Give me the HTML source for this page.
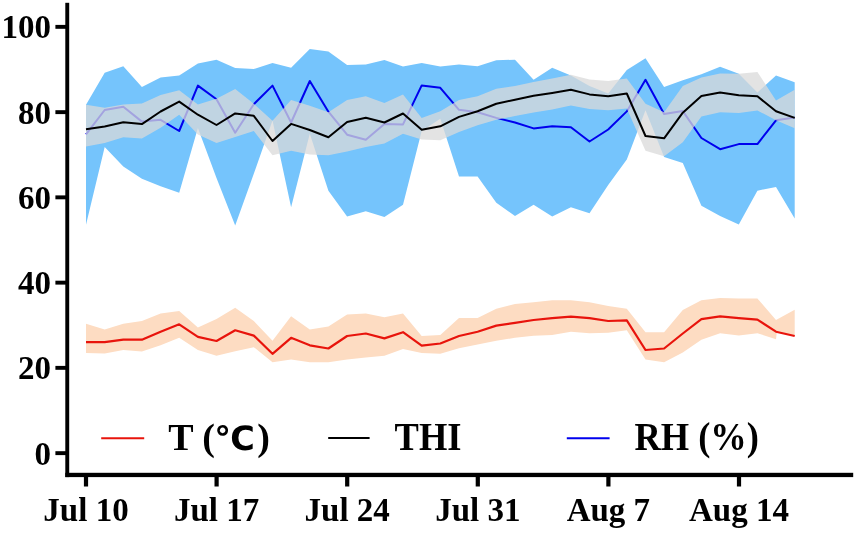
<!DOCTYPE html>
<html lang="en"><head><meta charset="utf-8"><title>T, THI and RH chart</title>
<style>html,body{margin:0;padding:0;background:#fff}svg{display:block}</style></head>
<body>
<svg width="856" height="533" viewBox="0 0 856 533">
<rect width="856" height="533" fill="#fff"/>
<polygon points="86.0,104.7 104.7,72.8 123.3,66.3 141.9,86.9 160.6,77.5 179.2,75.6 197.9,63.5 216.5,59.7 235.2,68.1 253.8,69.1 272.5,62.9 291.1,67.8 309.8,49.0 328.4,51.6 347.1,65.0 365.8,64.4 384.4,60.0 403.0,66.6 421.7,62.9 440.3,66.6 459.0,64.4 477.6,66.3 496.3,60.3 515.0,59.7 533.6,79.8 552.2,67.8 570.9,75.6 589.5,86.0 608.2,93.5 626.8,70.0 645.5,58.2 664.1,86.9 682.8,80.3 701.4,74.3 720.1,66.8 738.8,73.8 757.4,92.5 776.0,75.6 794.7,82.2 794.7,218.4 776.0,186.9 757.4,190.7 738.8,224.4 720.1,216.0 701.4,205.7 682.8,162.9 664.1,156.9 645.5,110.3 626.8,159.5 608.2,185.0 589.5,213.2 570.9,207.2 552.2,216.5 533.6,204.7 515.0,216.0 496.3,202.8 477.6,176.6 459.0,176.6 440.3,118.8 421.7,131.0 403.0,204.7 384.4,217.1 365.8,211.3 347.1,216.5 328.4,190.7 309.8,133.8 291.1,207.2 272.5,120.6 253.8,173.8 235.2,225.5 216.5,178.0 197.9,128.0 179.2,192.8 160.6,186.3 141.9,178.8 123.3,166.6 104.7,146.9 86.0,224.7" fill="#75c4fc"/>
<polyline points="86.0,134.4 104.7,110.0 123.3,106.8 141.9,121.6 160.6,119.8 179.2,131.0 197.9,85.6 216.5,99.3 235.2,132.7 253.8,104.2 272.5,85.6 291.1,122.5 309.8,81.0 328.4,111.7 347.1,134.7 365.8,139.8 384.4,123.9 403.0,124.4 421.7,85.4 440.3,87.8 459.0,109.8 477.6,112.2 496.3,117.9 515.0,122.5 533.6,128.4 552.2,126.3 570.9,127.2 589.5,141.5 608.2,129.5 626.8,111.4 645.5,79.8 664.1,114.1 682.8,111.1 701.4,138.0 720.1,149.2 738.8,144.1 757.4,144.1 776.0,120.3 794.7,117.6" fill="none" stroke="#0000ee" stroke-width="2" stroke-linejoin="round"/>
<polygon points="86.0,104.8 104.7,107.8 123.3,104.4 141.9,103.5 160.6,95.0 179.2,90.3 197.9,104.4 216.5,98.8 235.2,89.1 253.8,103.8 272.5,120.7 291.1,100.0 309.8,105.7 328.4,112.2 347.1,100.0 365.8,96.3 384.4,103.1 403.0,94.4 421.7,117.9 440.3,111.3 459.0,100.0 477.6,96.3 496.3,88.8 515.0,86.0 533.6,82.0 552.2,78.5 570.9,74.7 589.5,79.4 608.2,80.9 626.8,78.5 645.5,103.8 664.1,112.2 682.8,86.0 701.4,77.5 720.1,73.4 738.8,73.8 757.4,71.9 776.0,100.4 794.7,89.7 794.7,128.2 776.0,120.2 757.4,110.4 738.8,113.0 720.1,112.2 701.4,116.4 682.8,142.2 664.1,156.3 645.5,150.7 626.8,108.4 608.2,110.3 589.5,109.0 570.9,105.6 552.2,109.4 533.6,112.5 515.0,116.0 496.3,119.7 477.6,125.3 459.0,131.9 440.3,140.3 421.7,139.4 403.0,133.8 384.4,143.6 365.8,146.9 347.1,151.6 328.4,155.3 309.8,154.4 291.1,150.7 272.5,155.3 253.8,131.0 235.2,137.0 216.5,142.9 197.9,134.4 179.2,114.7 160.6,127.8 141.9,138.5 123.3,137.2 104.7,142.9 86.0,146.6" fill="#dadada" fill-opacity="0.75"/>
<polyline points="86.0,129.3 104.7,126.5 123.3,122.2 141.9,124.1 160.6,111.5 179.2,101.6 197.9,114.7 216.5,125.0 235.2,113.4 253.8,115.8 272.5,141.0 291.1,123.9 309.8,130.0 328.4,137.3 347.1,122.0 365.8,117.8 384.4,122.5 403.0,113.5 421.7,129.8 440.3,126.3 459.0,116.9 477.6,111.3 496.3,103.8 515.0,99.7 533.6,95.8 552.2,92.9 570.9,89.7 589.5,94.4 608.2,96.3 626.8,93.5 645.5,136.0 664.1,138.3 682.8,112.7 701.4,95.9 720.1,92.5 738.8,95.3 757.4,96.3 776.0,111.3 794.7,117.9" fill="none" stroke="#000" stroke-width="2" stroke-linejoin="round"/>
<polygon points="86.0,323.8 104.7,329.4 123.3,323.8 141.9,321.0 160.6,313.5 179.2,311.0 197.9,327.5 216.5,319.1 235.2,307.8 253.8,321.0 272.5,340.7 291.1,316.3 309.8,329.4 328.4,326.6 347.1,314.4 365.8,313.5 384.4,317.2 403.0,313.5 421.7,336.0 440.3,335.0 459.0,318.1 477.6,318.1 496.3,308.8 515.0,304.1 533.6,302.2 552.2,300.3 570.9,300.3 589.5,302.2 608.2,305.9 626.8,308.8 645.5,332.2 664.1,332.2 682.8,310.0 701.4,300.3 720.1,297.9 738.8,298.4 757.4,298.4 776.0,320.0 794.7,309.7 794.7,336.0 776.8,332.5 776.0,339.2 757.4,333.2 738.8,335.4 720.1,333.2 701.4,339.7 682.8,352.4 664.1,362.2 645.5,359.4 626.8,330.3 608.2,332.8 589.5,333.2 570.9,331.7 552.2,335.0 533.6,335.8 515.0,337.8 496.3,340.7 477.6,344.4 459.0,348.2 440.3,353.8 421.7,352.9 403.0,349.1 384.4,355.7 365.8,357.5 347.1,359.4 328.4,362.2 309.8,362.2 291.1,359.4 272.5,362.2 253.8,347.2 235.2,351.2 216.5,355.7 197.9,350.0 179.2,337.8 160.6,345.3 141.9,351.5 123.3,350.0 104.7,353.4 86.0,352.9" fill="#fddcc2"/>
<polyline points="86.0,342.2 104.7,342.2 123.3,339.7 141.9,339.7 160.6,331.7 179.2,324.3 197.9,336.9 216.5,341.0 235.2,330.3 253.8,335.6 272.5,353.8 291.1,337.8 309.8,345.3 328.4,348.5 347.1,336.0 365.8,333.5 384.4,338.4 403.0,332.2 421.7,345.7 440.3,343.5 459.0,336.0 477.6,331.7 496.3,325.6 515.0,322.8 533.6,320.0 552.2,318.1 570.9,316.6 589.5,318.1 608.2,321.0 626.8,320.4 645.5,350.0 664.1,348.5 682.8,333.5 701.4,319.1 720.1,316.3 738.8,318.1 757.4,319.6 776.0,331.7 794.7,336.0" fill="none" stroke="#e8140c" stroke-width="2.2" stroke-linejoin="round"/>
<g fill="#000">
<rect x="65.3" y="2.8" width="3.9" height="474.3"/>
<rect x="65.3" y="472.8" width="787.9" height="4.3"/>
<rect x="55.4" y="451.2" width="11" height="3.9"/>
<rect x="55.4" y="365.9" width="11" height="3.9"/>
<rect x="55.4" y="280.7" width="11" height="3.9"/>
<rect x="55.4" y="195.4" width="11" height="3.9"/>
<rect x="55.4" y="110.2" width="11" height="3.9"/>
<rect x="55.4" y="24.9" width="11" height="3.9"/>
<rect x="83.9" y="476" width="4.2" height="10.5"/>
<rect x="214.5" y="476" width="4.2" height="10.5"/>
<rect x="345.1" y="476" width="4.2" height="10.5"/>
<rect x="475.7" y="476" width="4.2" height="10.5"/>
<rect x="606.3" y="476" width="4.2" height="10.5"/>
<rect x="736.9" y="476" width="4.2" height="10.5"/>
</g>
<g font-family="'Liberation Serif', serif" font-weight="bold" font-size="33px" fill="#000">
<text x="51" y="464.5" text-anchor="end">0</text>
<text x="51" y="379.2" text-anchor="end">20</text>
<text x="51" y="294.0" text-anchor="end">40</text>
<text x="51" y="208.7" text-anchor="end">60</text>
<text x="51" y="123.5" text-anchor="end">80</text>
<text x="51" y="38.2" text-anchor="end">100</text>
<text x="86.0" y="521.2" text-anchor="middle">Jul 10</text>
<text x="216.6" y="521.2" text-anchor="middle">Jul 17</text>
<text x="347.2" y="521.2" text-anchor="middle">Jul 24</text>
<text x="477.8" y="521.2" text-anchor="middle">Jul 31</text>
<text x="608.4" y="521.2" text-anchor="middle">Aug 7</text>
<text x="739.0" y="521.2" text-anchor="middle">Aug 14</text>
</g>
<g stroke-width="2">
<line x1="101.2" y1="438.2" x2="144.2" y2="438.2" stroke="#e8140c"/>
<line x1="328.2" y1="438" x2="369.6" y2="438" stroke="#000"/>
<line x1="566.8" y1="438.3" x2="609.6" y2="438.3" stroke="#0000ee"/>
</g>
<g font-family="'Liberation Serif', 'DejaVu Sans', serif" font-weight="bold" font-size="39px" fill="#000">
<text y="449.9" font-size="38px"><tspan x="168.2">T (</tspan><tspan x="214.2" font-family="'DejaVu Sans', 'Noto Sans CJK SC', sans-serif" font-size="33.5px">℃</tspan><tspan x="257.2">)</tspan></text>
<text transform="translate(394.6,449.6) scale(0.935,1)">THI</text>
<text transform="translate(634.4,449.8) scale(0.935,1)">RH (%)</text>
</g>
</svg>
</body></html>
